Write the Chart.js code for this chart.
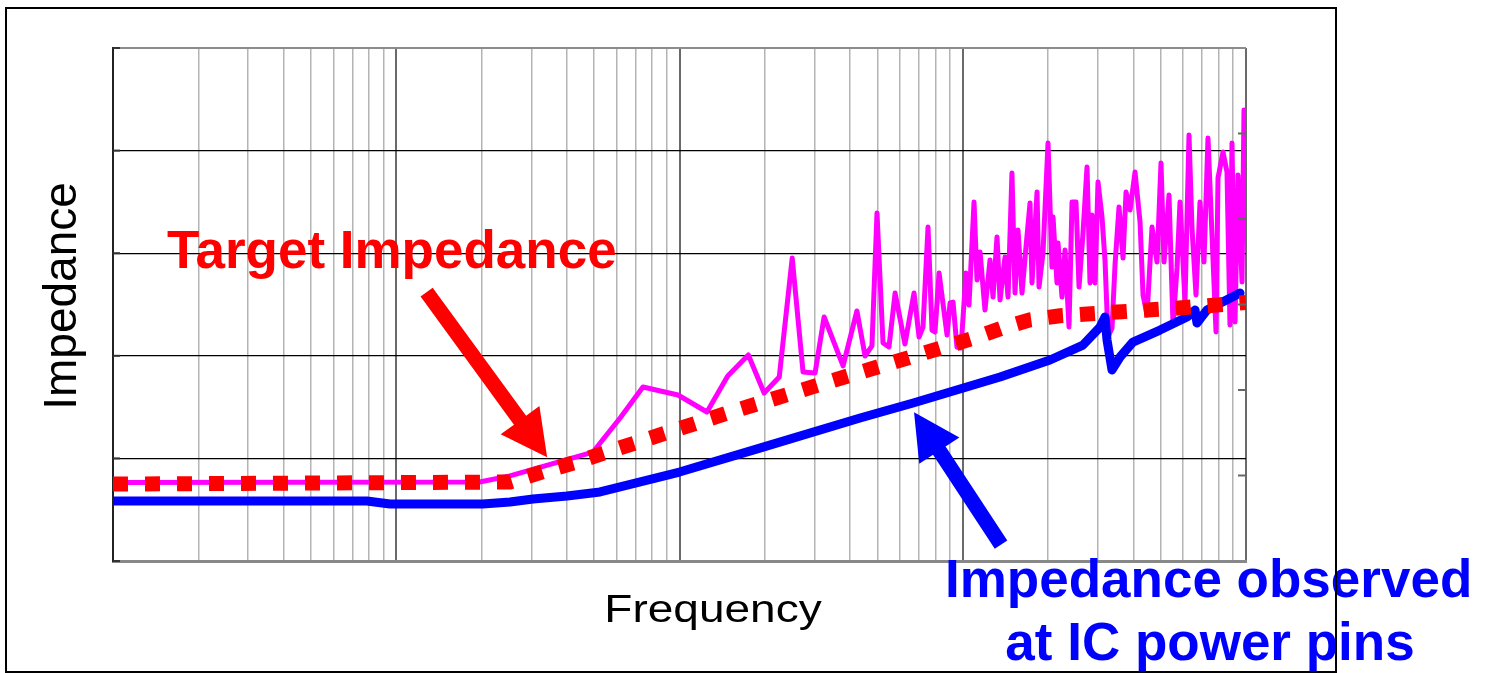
<!DOCTYPE html>
<html>
<head>
<meta charset="utf-8">
<title>Impedance vs Frequency</title>
<script src="https://cdn.jsdelivr.net/npm/chart.js@4/dist/chart.umd.min.js"></script>
<style>
  html, body { margin: 0; padding: 0; background: #fff; }
  canvas { display: block; background: #fff; }
</style>
</head>
<body>
<canvas id="chart" width="1485" height="673"></canvas>
<script>
// frequency in kHz (4 decades, no labels on the original), impedance in arbitrary units
const xGridLines = [
  1, 2, 3, 4, 5, 6, 7, 8, 9,
  10, 20, 30, 40, 50, 60, 70, 80, 90,
  100, 200, 300, 400, 500, 600, 700, 800, 900,
  1000, 2000, 3000, 4000, 5000, 6000, 7000, 8000, 9000,
  10000
];
const decades = [1, 10, 100, 1000, 10000];
const yGridLines = [0, 1, 2, 3, 4, 5];
const rightTicks = [1, 2, 3, 4, 5]; // of 6 divisions on the right edge

const targetFreq = [1, 25.2, 33.0, 42.8, 147, 400, 1087, 1376, 1728, 2204, 3650, 6090, 10000];
const targetZ = [0.75, 0.77, 0.87, 0.96, 1.44, 1.81, 2.17, 2.27, 2.35, 2.39, 2.43, 2.47, 2.52];

const observedFreq = [1, 7.88, 9.5, 20.2, 25.2, 30.4, 40.1, 52.4, 100, 192, 434, 668, 1354, 2032,
  2658, 3052, 3178, 3231, 3365, 3592, 3990, 4971, 6190, 6607, 6714, 7283, 9524];
const observedZ = [0.585, 0.585, 0.556, 0.556, 0.575, 0.604, 0.634, 0.673, 0.867, 1.10, 1.394, 1.54, 1.793, 1.959,
  2.105, 2.28, 2.378, 2.154, 1.862, 1.988, 2.134, 2.251, 2.378, 2.446, 2.32, 2.446, 2.612];

const noisyFreq = [1, 19.7, 25.2, 49.5, 61.7, 74.3, 98.8, 125, 148, 175, 199, 225, 250, 273, 301, 324,
  378, 423, 452, 478, 498, 523, 549, 577, 625, 673, 701, 724, 754, 779, 798, 825, 880, 902, 924, 954,
  986, 1027, 1052, 1096, 1123, 1151, 1198, 1248, 1279, 1321, 1354, 1410, 1445, 1492, 1529, 1567, 1619,
  1672, 1728, 1756, 1829, 1859, 1920, 2000, 2066, 2083, 2151, 2169, 2241, 2296, 2372, 2431, 2511, 2573,
  2658, 2746, 2814, 2860, 2931, 3003, 3102, 3178, 3257, 3365, 3448, 3562, 3680, 3771, 3896, 4057, 4226,
  4330, 4473, 4658, 4852, 5011, 5135, 5348, 5525, 5707, 5848, 6090, 6292, 6447, 6660, 6880, 7107, 7342,
  7586, 7837, 7965, 8296, 8568, 8779, 8924, 9146, 9371, 9681, 9838, 10000];
const noisyZ = [0.765, 0.77, 0.83, 1.062, 1.394, 1.696, 1.618, 1.452, 1.803, 2.008, 1.637, 1.793, 2.953, 1.842,
  1.832, 2.378, 1.901, 2.437, 1.998, 2.096, 3.392, 2.125, 2.086, 2.612, 2.115, 2.612, 2.183, 2.281, 3.255,
  2.251, 2.232, 2.807, 2.203, 2.515, 2.524, 2.086, 2.076, 2.807, 2.495, 3.499, 2.739, 3.012, 2.446, 2.934,
  2.573, 3.158, 2.544, 2.963, 2.573, 3.782, 2.612, 3.226, 2.612, 3.06, 3.489, 2.71, 3.596, 2.671, 3.002,
  4.074, 2.865, 3.353, 2.71, 3.099, 2.573, 3.031, 2.281, 3.499, 3.499, 2.671, 3.197, 3.84, 2.71, 3.372,
  2.71, 3.694, 3.353, 2.934, 2.183, 2.271, 2.885, 3.45, 2.953, 3.596, 3.421, 3.791, 3.304, 2.593, 2.398,
  3.255, 2.914, 3.879, 2.914, 3.567, 2.3, 2.856, 3.499, 2.524, 4.152, 3.246, 2.593, 3.499, 2.914, 4.123,
  3.177, 2.232, 3.733, 3.986, 3.791, 2.3, 4.074, 2.329, 3.762, 2.719, 4.396, 3.246];

// arrows, in data coordinates: [tailFreq, tailZ, tipFreq, tipZ]
const targetArrow = [12.8, 2.62, 34.1, 1.01];
const observedArrow = [1365, 0.16, 673, 1.45];

const FONT = "'Liberation Sans', Arial, Helvetica, sans-serif";

const toPoints = (xs, ys) => xs.map((x, i) => ({ x: x, y: ys[i] }));

function drawArrow(ctx, x1, y1, x2, y2, shaft, headLen, headHalf, color) {
  const dx = x2 - x1, dy = y2 - y1;
  const len = Math.hypot(dx, dy);
  const ux = dx / len, uy = dy / len;
  const nx = -uy, ny = ux;
  const bx = x2 - ux * headLen, by = y2 - uy * headLen;
  ctx.fillStyle = color;
  ctx.beginPath();
  ctx.moveTo(x1 + nx * shaft / 2, y1 + ny * shaft / 2);
  ctx.lineTo(bx + nx * shaft / 2, by + ny * shaft / 2);
  ctx.lineTo(bx + nx * headHalf, by + ny * headHalf);
  ctx.lineTo(x2, y2);
  ctx.lineTo(bx - nx * headHalf, by - ny * headHalf);
  ctx.lineTo(bx - nx * shaft / 2, by - ny * shaft / 2);
  ctx.lineTo(x1 - nx * shaft / 2, y1 - ny * shaft / 2);
  ctx.closePath();
  ctx.fill();
}

const decorations = {
  id: 'decorations',
  afterDraw(chart) {
    const ctx = chart.ctx;
    const x = chart.scales.x, y = chart.scales.y, y2 = chart.scales.y2;
    const area = chart.chartArea;
    ctx.save();

    // small inner tick marks on both vertical edges
    ctx.strokeStyle = '#333';
    ctx.lineWidth = 2;
    yGridLines.forEach(v => {
      const py = y.getPixelForValue(v);
      ctx.beginPath();
      ctx.moveTo(area.left, py);
      ctx.lineTo(area.left + 7, py);
      ctx.stroke();
    });
    ctx.strokeStyle = '#666';
    rightTicks.forEach(v => {
      const py = y2.getPixelForValue(v);
      ctx.beginPath();
      ctx.moveTo(area.right, py);
      ctx.lineTo(area.right - 8, py);
      ctx.stroke();
    });

    // arrows
    const a = targetArrow;
    drawArrow(ctx, x.getPixelForValue(a[0]), y.getPixelForValue(a[1]),
      x.getPixelForValue(a[2]), y.getPixelForValue(a[3]), 15, 46, 24, '#ff0000');
    const b = observedArrow;
    drawArrow(ctx, x.getPixelForValue(b[0]), y.getPixelForValue(b[1]),
      x.getPixelForValue(b[2]), y.getPixelForValue(b[3]), 15, 46, 24, '#0000ff');

    // axis titles
    ctx.fillStyle = '#000';
    ctx.textBaseline = 'alphabetic';
    ctx.textAlign = 'center';
    ctx.save();
    ctx.translate(713, 622);
    ctx.scale(1, 0.86);
    ctx.font = '46px ' + FONT;
    ctx.fillText('Frequency', 0, 0);
    ctx.restore();

    ctx.save();
    ctx.translate(76, 296);
    ctx.rotate(-Math.PI / 2);
    ctx.font = '46px ' + FONT;
    ctx.fillText('Impedance', 0, 0);
    ctx.restore();

    // callouts
    ctx.font = 'bold 53px ' + FONT;
    ctx.fillStyle = '#ff0000';
    ctx.textAlign = 'left';
    ctx.fillText('Target Impedance', 167, 268);
    ctx.fillStyle = '#0000ff';
    ctx.fillText('Impedance observed', 945, 597);
    ctx.textAlign = 'center';
    ctx.fillText('at IC power pins', 1210, 660);

    // outer frame
    ctx.strokeStyle = '#000';
    ctx.lineWidth = 2;
    ctx.strokeRect(6, 8, 1330, 664);
    ctx.restore();
  }
};

new Chart(document.getElementById('chart'), {
  type: 'line',
  data: {
    datasets: [
      {
        label: 'Target Impedance',
        data: toPoints(targetFreq, targetZ),
        borderColor: '#ff0000',
        borderWidth: 15,
        borderDash: [15, 17],
        borderCapStyle: 'butt',
        borderJoinStyle: 'miter'
      },
      {
        label: 'Impedance observed at IC power pins',
        data: toPoints(observedFreq, observedZ),
        borderColor: '#0000ff',
        borderWidth: 9,
        borderCapStyle: 'round',
        borderJoinStyle: 'round'
      },
      {
        label: 'Impedance',
        data: toPoints(noisyFreq, noisyZ),
        borderColor: '#ff00ff',
        borderWidth: 5,
        borderJoinStyle: 'round'
      }
    ]
  },
  options: {
    responsive: false,
    devicePixelRatio: 1,
    animation: false,
    layout: { padding: { left: 113, top: 48, right: 239, bottom: 112 } },
    elements: { point: { radius: 0 }, line: { tension: 0 } },
    plugins: { legend: { display: false }, tooltip: { enabled: false } },
    scales: {
      x: {
        type: 'logarithmic',
        min: 1,
        max: 10000,
        afterBuildTicks: axis => { axis.ticks = xGridLines.map(v => ({ value: v })); },
        ticks: { display: false },
        grid: {
          drawTicks: false,
          color: ctx => decades.includes(ctx.tick && ctx.tick.value) ? '#6a6a6a' : '#b4b4b4',
          lineWidth: ctx => decades.includes(ctx.tick && ctx.tick.value) ? 2 : 1.5
        },
        border: { color: '#888', width: 3 }
      },
      y: {
        type: 'linear',
        min: 0,
        max: 5,
        afterBuildTicks: axis => { axis.ticks = yGridLines.map(v => ({ value: v })); },
        ticks: { display: false },
        grid: {
          drawTicks: false,
          color: ctx => (ctx.tick && (ctx.tick.value === 0 || ctx.tick.value === 5)) ? '#8c8c8c' : '#000',
          lineWidth: ctx => (ctx.tick && (ctx.tick.value === 0 || ctx.tick.value === 5)) ? 2 : 1.2
        },
        border: { color: '#222', width: 2 }
      },
      y2: {
        type: 'linear',
        display: false,
        position: 'right',
        min: 0,
        max: 6
      }
    }
  },
  plugins: [decorations]
});
</script>
</body>
</html>
